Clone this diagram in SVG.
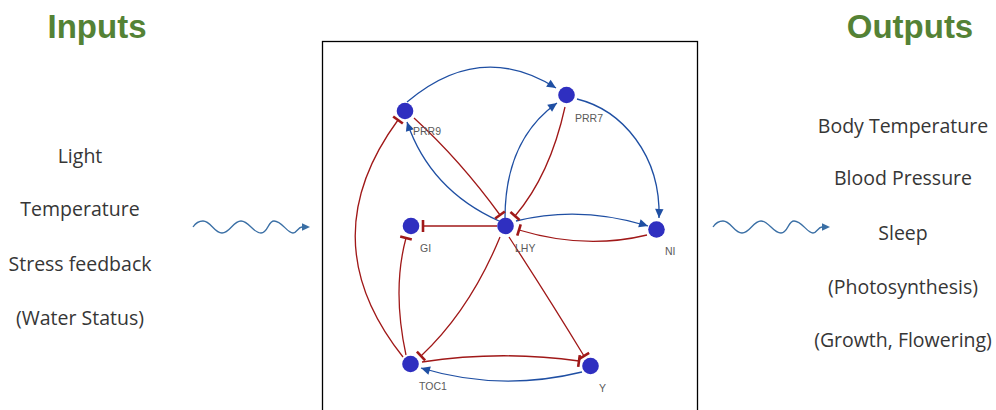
<svg xmlns="http://www.w3.org/2000/svg" width="996" height="410" viewBox="0 0 996 410">
<style>
.title{font-family:"Liberation Sans",Arial,sans-serif;font-weight:bold;font-size:33px;fill:#548235;text-anchor:middle}
.item{font-family:"Open Sans","Liberation Sans",sans-serif;font-size:19.5px;fill:#363636;text-anchor:middle}
.lbl{font-family:"Liberation Sans",Arial,sans-serif;font-size:10.5px;fill:#5a5a5a}
.node{fill:#2f2fc0}
.act{fill:none;stroke:#1f4fa3;stroke-width:1.3;marker-end:url(#arrow)}
.inh{fill:none;stroke:#a01818;stroke-width:1.3;marker-end:url(#bar)}
.wave{fill:none;stroke:#3a6fa5;stroke-width:1.3;marker-end:url(#warrow)}
</style>
<defs>
<marker id="arrow" markerUnits="userSpaceOnUse" viewBox="-10 -5 11 10" refX="0" refY="0" markerWidth="11" markerHeight="10" orient="auto">
<path d="M0,0 L-9,-4.2 L-9,4.2 Z" fill="#1f4fa3"/>
</marker>
<marker id="bar" markerUnits="userSpaceOnUse" viewBox="-3 -8 6 16" refX="0" refY="0" markerWidth="6" markerHeight="16" orient="auto">
<path d="M0,-6 L0,6" stroke="#a01818" stroke-width="2.6"/>
</marker>
<marker id="warrow" markerUnits="userSpaceOnUse" viewBox="0 -5 10 10" refX="0" refY="0" markerWidth="10" markerHeight="10" orient="auto">
<path d="M0,-3.8 L8,0 L0,3.8 Z" fill="#3a6fa5"/>
</marker>
</defs>

<text class="title" x="97" y="38">Inputs</text>
<text class="title" x="910" y="38">Outputs</text>

<g id="inputs">
<text class="item" x="80" y="163">Light</text>
<text class="item" x="80" y="216">Temperature</text>
<text class="item" x="80" y="271">Stress feedback</text>
<text class="item" x="80" y="325">(Water Status)</text>
</g>
<g id="outputs">
<text class="item" x="903" y="133">Body Temperature</text>
<text class="item" x="903" y="185">Blood Pressure</text>
<text class="item" x="903" y="240">Sleep</text>
<text class="item" x="903" y="294">(Photosynthesis)</text>
<text class="item" x="903" y="347">(Growth, Flowering)</text>
</g>

<g id="waves">
<path class="wave" d="M193,227 Q197,221 203,221 C211,221 214,233 222,233 C230,233 233,221 241,221 C249,221 253,233 261,233 C268,233 268,221 274,221 C282,221 287,233 293,233 C297,233 298,227 302,227"/>
<path class="wave" transform="translate(520,0)" d="M193,227 Q197,221 203,221 C211,221 214,233 222,233 C230,233 233,221 241,221 C249,221 253,233 261,233 C268,233 268,221 274,221 C282,221 287,233 293,233 C297,233 298,227 302,227"/>
</g>

<rect x="322.5" y="41.5" width="375" height="400" fill="none" stroke="#000" stroke-width="1.3"/>

<g id="connectors">
<path class="act" d="M407,102 Q480,40 556,88"/>
<path class="act" d="M577,99 C622,110 661,155 659,218"/>
<path class="act" d="M499,221 Q430,190 407,122"/>
<path class="act" d="M505,218 Q505,140 557,103"/>
<path class="act" d="M516,221 Q580,205 648,226"/>
<path class="act" d="M582,372 Q500,392 421,368"/>

<path class="inh" d="M497,226 L423,226"/>
<path class="inh" d="M414,118 Q460,160 500,215"/>
<path class="inh" d="M565,107 Q550,175 515,216"/>
<path class="inh" d="M647,235 Q585,250 519,230"/>
<path class="inh" d="M500,237 Q470,310 421,356"/>
<path class="inh" d="M509,237 Q550,300 584,356"/>
<path class="inh" d="M422,362 Q500,350 579,361"/>
<path class="inh" d="M406,355 Q392,290 406,238"/>
<path class="inh" d="M403,357 Q310,240 398,120"/>
</g>

<g id="PRR9"><circle class="node" cx="405" cy="111" r="8.3"/><text class="lbl" x="413" y="135">PRR9</text></g>
<g id="PRR7"><circle class="node" cx="566.5" cy="95" r="8.3"/><text class="lbl" x="575" y="122">PRR7</text></g>
<g id="GI"><circle class="node" cx="411" cy="226" r="8.3"/><text class="lbl" x="420" y="252">GI</text></g>
<g id="LHY"><circle class="node" cx="505.5" cy="226" r="8.3"/><text class="lbl" x="515" y="252">LHY</text></g>
<g id="NI"><circle class="node" cx="656.5" cy="229.5" r="8.3"/><text class="lbl" x="665" y="255">NI</text></g>
<g id="TOC1"><circle class="node" cx="410.5" cy="364" r="8.3"/><text class="lbl" x="419" y="390">TOC1</text></g>
<g id="Y"><circle class="node" cx="590.5" cy="366" r="8.3"/><text class="lbl" x="599" y="392">Y</text></g>
</svg>
